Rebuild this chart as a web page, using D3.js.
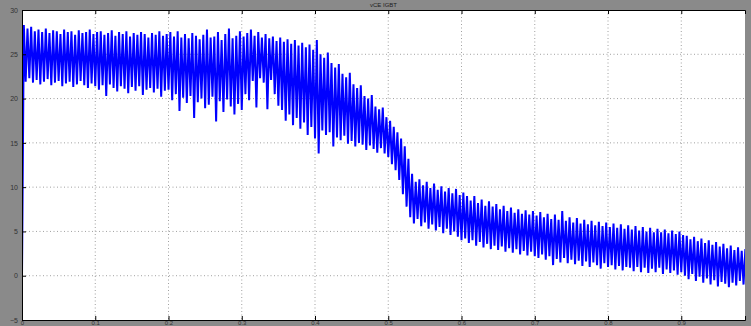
<!DOCTYPE html>
<html>
<head>
<meta charset="utf-8">
<script src="https://cdn.jsdelivr.net/npm/d3@7"></script>
<style>
  html, body { margin: 0; padding: 0; background: #8a8a8a; overflow: hidden; }
  svg { display: block; }
  .tick text { font-family: "Liberation Sans", Arial, sans-serif; font-size: 7px; fill: #333; }
  .xax .tick text { font-size: 6px; }
</style>
</head>
<body>
<script>
// scope trace, sampled every dt seconds: lo = trough, hi = peak of each cycle
var dt = 0.005;
var lo = [0.0, 21.9, 22.3, 21.8, 22.1, 21.6, 21.9, 22.2, 21.5, 21.8, 22.0, 21.4, 21.7, 21.9, 21.3, 21.6, 22.0, 21.5, 21.2, 21.7, 21.4,
  21.0, 21.5, 20.3, 21.6, 21.2, 20.8, 21.4, 21.1, 20.6, 21.3, 20.9, 21.4, 20.4, 21.0, 21.2, 20.7, 21.1, 20.2, 20.9, 21.0,
  19.8, 20.5, 18.6, 20.1, 19.5, 20.3, 17.8, 19.6, 20.0, 18.9, 19.3, 20.2, 17.4, 19.7, 18.5, 19.9, 19.1, 18.2, 19.4, 18.7,
  20.5, 19.8, 22.0, 19.0, 22.3, 21.8, 18.8, 22.1, 20.5, 19.2, 18.7, 17.5, 18.2, 17.0, 17.8, 16.6, 17.3, 15.9, 16.8, 15.5,
  13.8, 16.4, 15.9, 16.2, 14.6, 15.6, 15.3, 15.8, 14.9, 15.2, 14.6, 15.0, 14.8, 14.2, 14.7, 14.3, 13.9, 14.4, 13.8, 13.4,
  12.6, 11.9, 10.8, 9.2, 7.8, 6.6, 5.9, 6.4, 5.6, 6.0, 5.3, 5.8, 5.1, 5.5, 4.8, 5.3, 4.6, 5.0, 4.4, 4.0,
  4.2, 3.7, 4.0, 3.4, 3.8, 3.2, 3.6, 3.0, 3.4, 2.9, 3.3, 2.7, 3.1, 2.6, 3.0, 2.4, 2.8, 2.3, 2.7, 2.2,
  2.0, 2.4, 1.8, 2.2, 1.2, 1.9, 1.5, 2.0, 1.4, 1.8, 1.3, 1.7, 1.1, 1.6, 1.0, 1.5, 1.2, 0.8, 1.4, 1.0,
  1.2, 0.7, 1.1, 0.6, 1.0, 0.9, 0.5, 1.0, 0.4, 0.9, 0.3, 0.8, 0.4, 0.9, 0.2, 0.7, 0.3, 0.6, 0.1, 0.4,
  0.0, -0.4, 0.2, -0.6, -0.1, -0.8, -0.3, -1.0, -0.5, -1.2, -0.7, -0.9, -1.3, -0.8, -1.1, -0.6, -1.0];
var hi = [28.3, 27.9, 28.1, 27.6, 27.8, 27.5, 27.9, 27.4, 27.7, 27.6, 27.3, 27.8, 27.5, 27.6, 27.2, 27.7, 27.4, 27.5, 27.8, 27.3, 27.5,
  27.6, 27.2, 27.4, 27.7, 27.1, 27.5, 27.3, 27.6, 27.0, 27.4, 27.2, 27.5, 27.3, 26.9, 27.4, 27.2, 27.6, 27.1, 27.3, 27.5,
  27.0, 27.6, 26.9, 27.3, 26.8, 27.4, 27.1, 26.7, 27.2, 27.8, 26.9, 27.0, 27.5, 26.6, 27.3, 27.9, 26.8, 27.1, 27.6, 27.0,
  27.4, 27.8, 27.1, 27.5, 26.9, 27.3, 26.8, 27.0, 26.5, 26.9, 26.4, 26.7, 26.2, 26.6, 26.0, 26.3, 25.8, 26.1, 25.5, 26.6,
  25.0, 24.6, 25.2, 24.0, 23.5, 23.9, 22.8, 22.4, 22.9, 21.6, 21.2, 21.5, 20.3, 20.0, 20.4, 19.1, 18.8, 19.0, 17.9, 17.5,
  16.8, 16.2, 15.5, 14.6, 13.2, 11.5, 10.6, 10.9, 10.2, 10.6, 9.9, 10.4, 9.7, 10.1, 9.5, 9.9, 9.3, 9.8, 9.1, 9.4,
  9.0, 8.5, 9.0, 8.2, 8.6, 7.9, 8.4, 7.8, 8.1, 7.5, 7.9, 7.3, 7.7, 7.1, 7.5, 7.0, 7.4, 6.9, 7.3, 6.8,
  7.2, 6.6, 7.0, 6.4, 6.9, 6.3, 7.3, 6.2, 6.6, 6.0, 6.5, 5.9, 6.3, 5.8, 6.2, 5.7, 6.1, 5.6, 6.0, 5.5,
  5.9, 5.4, 5.8, 5.3, 5.7, 5.2, 5.6, 5.1, 5.5, 5.0, 5.4, 4.9, 5.3, 4.9, 5.2, 4.8, 5.1, 4.7, 5.0, 4.6,
  4.5, 4.1, 4.4, 3.9, 4.2, 3.7, 4.0, 3.5, 3.8, 3.3, 3.6, 3.1, 3.4, 2.9, 3.2, 2.8, 3.0];
var xTicks = [0, 0.1, 0.2, 0.3, 0.4, 0.5, 0.6, 0.7, 0.8, 0.9];
var yTicks = [-5, 0, 5, 10, 15, 20, 25, 30];
var title = "vCE IGBT";

var W = 751, H = 326;
var pLeft = 22, pRight = 745, pTop = 10, pBottom = 320;

var x = d3.scaleLinear().domain([0, 0.987]).range([pLeft, pRight]);
var y = d3.scaleLinear().domain([-5, 30]).range([pBottom, pTop]);

var svg = d3.select('body').append('svg')
    .attr('width', W)
    .attr('height', H);

svg.append('rect')
    .attr('x', pLeft).attr('y', pTop)
    .attr('width', pRight - pLeft).attr('height', pBottom - pTop)
    .attr('fill', '#fff');

svg.append('clipPath').attr('id', 'clip')
  .append('rect')
    .attr('x', pLeft).attr('y', pTop)
    .attr('width', pRight - pLeft).attr('height', pBottom - pTop);

// dotted grid
var grid = svg.append('g').attr('stroke', '#777').attr('stroke-width', 0.7).attr('stroke-dasharray', '1,2.5');
grid.selectAll('.vg').data(xTicks.slice(1)).enter().append('line')
    .attr('x1', function(d){ return x(d); }).attr('x2', function(d){ return x(d); })
    .attr('y1', pTop).attr('y2', pBottom);
grid.selectAll('.hg').data(yTicks.slice(1, -1)).enter().append('line')
    .attr('y1', function(d){ return y(d); }).attr('y2', function(d){ return y(d); })
    .attr('x1', pLeft).attr('x2', pRight);

// the trace: down to each trough, up to each peak
var pts = [];
lo.forEach(function(v, i){
    pts.push([i * dt, v]);
    pts.push([i * dt + dt / 2, hi[i]]);
});

var line = d3.line()
    .x(function(d){ return x(d[0]); })
    .y(function(d){ return y(d[1]); });

svg.append('path')
    .attr('clip-path', 'url(#clip)')
    .attr('d', line(pts))
    .attr('fill', 'none')
    .attr('stroke', '#0000ff')
    .attr('stroke-width', 2)
    .attr('stroke-linejoin', 'bevel');

// axes, MATLAB style ticks pointing inward
var xAxis = d3.axisBottom(x).tickValues(xTicks).tickSize(-4).tickPadding(1)
    .tickFormat(function(d){ return d; });
var yAxis = d3.axisLeft(y).tickValues(yTicks).tickSize(-4).tickPadding(4);

svg.append('g')
    .attr('class', 'xax')
    .attr('transform', 'translate(0,' + pBottom + ')')
    .call(xAxis);
svg.append('g')
    .attr('transform', 'translate(' + pLeft + ',0)')
    .call(yAxis);
svg.append('g')
    .attr('transform', 'translate(0,' + pTop + ')')
    .call(d3.axisTop(x).tickValues(xTicks).tickSize(-4).tickFormat(''));

svg.selectAll('.domain').attr('stroke', '#000');
svg.selectAll('.tick line').attr('stroke', '#000');
svg.selectAll('.xax .tick text').attr('dy', '0.62em');

svg.append('text')
    .attr('x', (pLeft + pRight) / 2)
    .attr('y', 7)
    .attr('text-anchor', 'middle')
    .attr('font-family', 'Liberation Sans, Arial, sans-serif')
    .attr('font-size', 6)
    .attr('fill', '#222')
    .text(title);
</script>
</body>
</html>
